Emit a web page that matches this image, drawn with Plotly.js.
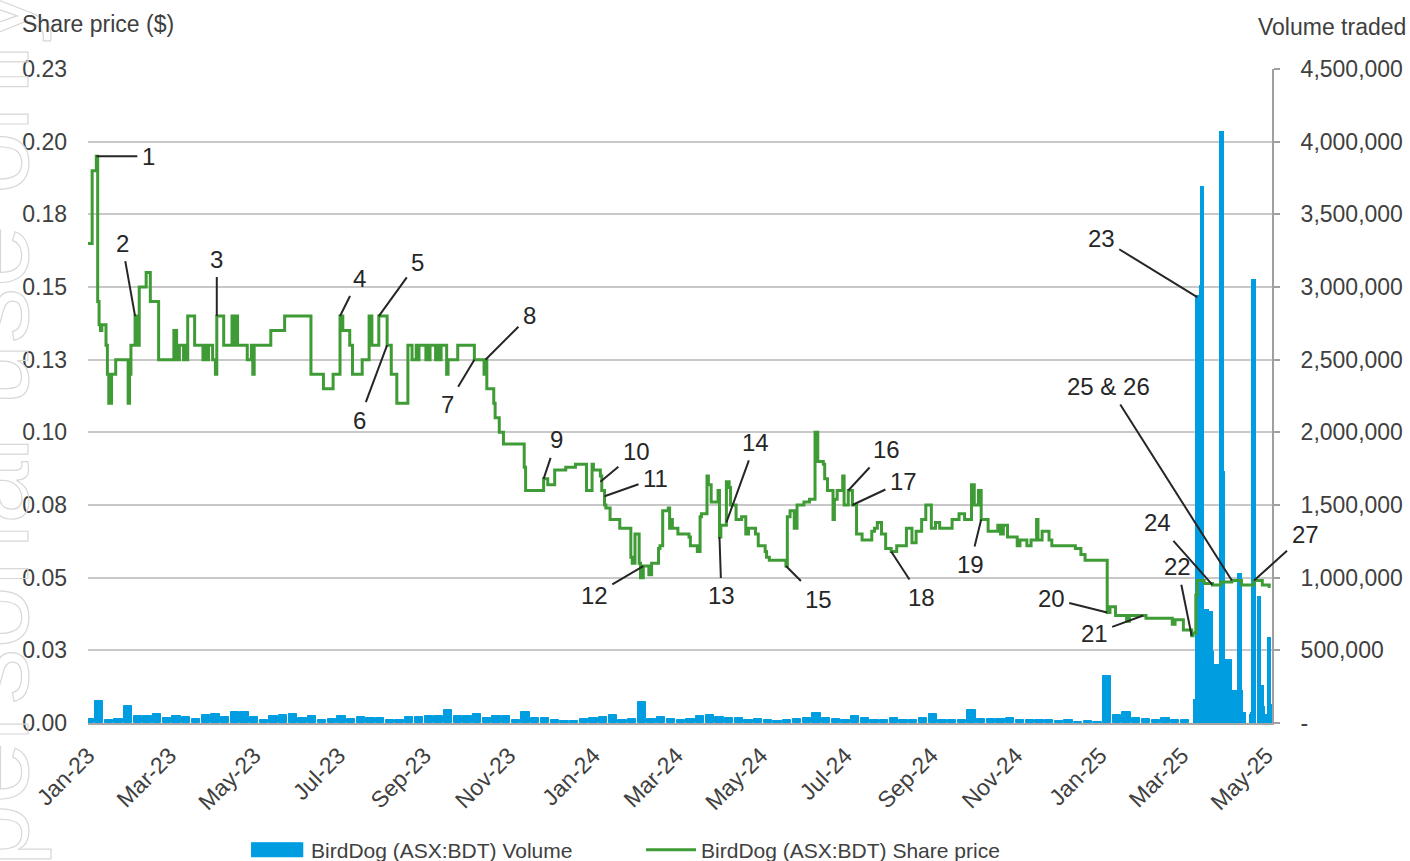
<!DOCTYPE html>
<html><head><meta charset="utf-8">
<script src="https://cdn.plot.ly/plotly-3.0.1.min.js"></script>
<style>
html,body{margin:0;padding:0;background:#fff;}
#chart{width:1410px;height:861px;}
g.annotation[data-index="0"] text { stroke:#d8d8d8; stroke-width:1.2px; }
</style></head><body><div id="chart"></div><script>
// ---------- data ----------
const priceDates = [
'2023-01-03','2023-01-06','2023-01-09','2023-01-10','2023-01-11','2023-01-12','2023-01-13','2023-01-16','2023-01-17','2023-01-18',
'2023-01-20','2023-01-23','2023-02-01','2023-02-02','2023-02-03','2023-02-06','2023-02-07','2023-02-09','2023-02-14','2023-02-17',
'2023-02-23','2023-03-06','2023-03-08','2023-03-10','2023-03-13','2023-03-14','2023-03-15','2023-03-16','2023-03-21','2023-03-27',
'2023-03-28','2023-03-29','2023-03-31','2023-04-03','2023-04-05','2023-04-06','2023-04-11','2023-04-17','2023-04-18','2023-04-19',
'2023-04-21','2023-04-28','2023-05-01','2023-05-02','2023-05-03','2023-05-15','2023-05-25','2023-06-13','2023-06-22','2023-06-29',
'2023-07-04','2023-07-06','2023-07-11','2023-07-13','2023-07-20','2023-07-25','2023-07-27','2023-08-01','2023-08-07','2023-08-10',
'2023-08-14','2023-08-22','2023-08-25','2023-08-28','2023-08-29','2023-08-30','2023-09-04','2023-09-05','2023-09-06','2023-09-07',
'2023-09-11','2023-09-12','2023-09-14','2023-09-15','2023-09-19','2023-09-20','2023-09-27','2023-10-09','2023-10-16','2023-10-17',
'2023-10-18','2023-10-23','2023-10-24','2023-10-27','2023-10-30','2023-11-14','2023-11-15','2023-11-28','2023-12-01','2023-12-06',
'2023-12-14','2023-12-21','2023-12-29','2024-01-02','2024-01-03','2024-01-08','2024-01-09','2024-01-11','2024-01-12','2024-01-15',
'2024-01-22','2024-01-30','2024-01-31','2024-02-02','2024-02-05','2024-02-06','2024-02-08','2024-02-12','2024-02-14','2024-02-19',
'2024-02-20','2024-02-22','2024-02-26','2024-02-27','2024-02-28','2024-02-29','2024-03-04','2024-03-12','2024-03-13','2024-03-18',
'2024-03-20','2024-03-21','2024-03-25','2024-03-26','2024-03-28','2024-04-02','2024-04-03','2024-04-04','2024-04-08','2024-04-10',
'2024-04-11','2024-04-15','2024-04-19','2024-04-22','2024-04-24','2024-04-29','2024-05-01','2024-05-06','2024-05-07','2024-05-09',
'2024-05-21','2024-05-22','2024-05-24','2024-05-27','2024-05-29','2024-06-03','2024-06-07','2024-06-11','2024-06-13','2024-06-17',
'2024-06-18','2024-06-20','2024-06-24','2024-06-25','2024-06-27','2024-07-01','2024-07-02','2024-07-05','2024-07-08','2024-07-11',
'2024-07-15','2024-07-22','2024-07-24','2024-07-26','2024-07-29','2024-08-01','2024-08-05','2024-08-09','2024-08-16','2024-08-20',
'2024-08-23','2024-08-27','2024-08-30','2024-09-03','2024-09-06','2024-09-09','2024-09-18','2024-09-23','2024-09-27','2024-10-02',
'2024-10-04','2024-10-07','2024-10-09','2024-10-14','2024-10-21','2024-10-23','2024-10-25','2024-10-28','2024-11-04','2024-11-06',
'2024-11-11','2024-11-14','2024-11-18','2024-11-19','2024-11-22','2024-11-27','2024-11-29','2024-12-16','2024-12-20','2024-12-23',
'2025-01-08','2025-01-10','2025-01-14','2025-01-21','2025-01-22','2025-01-24','2025-02-05','2025-02-24','2025-02-26','2025-03-04',
'2025-03-10','2025-03-11','2025-03-13','2025-03-14','2025-03-19','2025-03-25','2025-03-31','2025-04-08','2025-04-15','2025-04-24',
'2025-04-30','2025-05-05','2025-05-06'
];
const priceValues = [
0.165,0.19,0.195,0.145,0.137,0.135,0.137,0.13,0.12,0.11,
0.12,0.125,0.11,0.12,0.13,0.14,0.13,0.15,0.155,0.145,
0.125,0.135,0.125,0.13,0.125,0.13,0.125,0.14,0.13,0.125,
0.13,0.125,0.13,0.125,0.12,0.14,0.13,0.14,0.13,0.14,
0.13,0.125,0.13,0.12,0.13,0.135,0.14,0.12,0.115,0.12,
0.14,0.135,0.13,0.12,0.125,0.14,0.13,0.14,0.13,0.12,
0.11,0.13,0.125,0.13,0.125,0.13,0.125,0.13,0.125,0.13,
0.125,0.13,0.125,0.13,0.12,0.125,0.13,0.125,0.12,0.125,
0.115,0.11,0.105,0.10,0.096,0.088,0.08,0.084,0.082,0.087,
0.088,0.089,0.08,0.089,0.087,0.085,0.08,0.075,0.074,0.07,
0.067,0.057,0.055,0.065,0.055,0.05,0.054,0.051,0.055,0.06,
0.061,0.073,0.074,0.067,0.07,0.067,0.065,0.064,0.061,0.059,
0.071,0.072,0.085,0.082,0.076,0.08,0.064,0.068,0.083,0.081,
0.075,0.07,0.071,0.065,0.067,0.065,0.061,0.059,0.057,0.056,
0.054,0.071,0.073,0.067,0.075,0.076,0.077,0.10,0.09,0.089,
0.084,0.08,0.07,0.077,0.08,0.085,0.075,0.08,0.075,0.065,
0.063,0.066,0.067,0.069,0.065,0.06,0.059,0.061,0.067,0.062,
0.066,0.07,0.075,0.067,0.069,0.067,0.07,0.072,0.07,0.082,
0.075,0.08,0.07,0.066,0.068,0.065,0.068,0.064,0.061,0.063,
0.061,0.063,0.07,0.063,0.066,0.063,0.061,0.06,0.058,0.056,
0.038,0.04,0.037,0.037,0.035,0.037,0.036,0.034,0.0355,0.032,
0.03,0.031,0.044,0.049,0.048,0.0475,0.0485,0.049,0.0475,0.049,
0.0475,0.047,0.047
];

// weekly-read volume (Jan 2023 - early Mar 2025)
const volWeekDates = [
'2023-01-04','2023-01-11','2023-01-18','2023-01-25','2023-02-01','2023-02-08','2023-02-15','2023-02-22','2023-03-01','2023-03-08',
'2023-03-15','2023-03-22','2023-03-29','2023-04-05','2023-04-12','2023-04-19','2023-04-26','2023-05-03','2023-05-10','2023-05-17',
'2023-05-24','2023-05-31','2023-06-07','2023-06-14','2023-06-21','2023-06-28','2023-07-05','2023-07-12','2023-07-19','2023-07-26',
'2023-08-02','2023-08-09','2023-08-16','2023-08-23','2023-08-30','2023-09-06','2023-09-13','2023-09-20','2023-09-27','2023-10-04',
'2023-10-11','2023-10-18','2023-10-25','2023-11-01','2023-11-08','2023-11-15','2023-11-22','2023-11-29','2023-12-06','2023-12-13',
'2023-12-20','2023-12-27','2024-01-03','2024-01-10','2024-01-17','2024-01-24','2024-01-31','2024-02-07','2024-02-14','2024-02-21',
'2024-02-28','2024-03-06','2024-03-13','2024-03-20','2024-03-27','2024-04-03','2024-04-10','2024-04-17','2024-04-24','2024-05-01',
'2024-05-08','2024-05-15','2024-05-22','2024-05-29','2024-06-05','2024-06-12','2024-06-19','2024-06-26','2024-07-03','2024-07-10',
'2024-07-17','2024-07-24','2024-07-31','2024-08-07','2024-08-14','2024-08-21','2024-08-28','2024-09-04','2024-09-11','2024-09-18',
'2024-09-25','2024-10-02','2024-10-09','2024-10-16','2024-10-23','2024-10-30','2024-11-06','2024-11-13','2024-11-20','2024-11-27',
'2024-12-04','2024-12-11','2024-12-18','2024-12-25','2025-01-01','2025-01-08','2025-01-15','2025-01-22','2025-01-29','2025-02-05',
'2025-02-12','2025-02-19','2025-02-26','2025-03-05'
];
const volWeekValues = [
25000,149000,23000,28000,115000,46000,46000,64000,34000,50000,
41000,28000,57000,64000,41000,73000,73000,41000,18000,50000,
57000,64000,34000,46000,18000,28000,50000,28000,41000,34000,
32000,23000,23000,41000,41000,46000,50000,87000,46000,46000,
64000,34000,46000,46000,23000,73000,34000,34000,18000,11000,
11000,28000,34000,41000,57000,23000,28000,145000,28000,39000,
28000,18000,28000,46000,57000,41000,34000,34000,18000,28000,
23000,11000,23000,28000,34000,69000,34000,28000,18000,50000,
34000,23000,18000,34000,23000,23000,34000,64000,23000,18000,
18000,87000,28000,28000,28000,32000,23000,23000,23000,23000,
11000,18000,7000,16000,7000,320000,57000,78000,34000,28000,
23000,34000,23000,18000
];

// daily volume (Mar - May 2025)
const volDayDates = [
'2025-03-13','2025-03-14','2025-03-17','2025-03-18','2025-03-19','2025-03-20','2025-03-21','2025-03-24','2025-03-25','2025-03-26',
'2025-03-27','2025-03-28','2025-03-31','2025-04-01','2025-04-02','2025-04-03','2025-04-04','2025-04-07','2025-04-08','2025-04-09',
'2025-04-10','2025-04-11','2025-04-14','2025-04-15','2025-04-16','2025-04-17','2025-04-22','2025-04-23','2025-04-24','2025-04-28',
'2025-04-29','2025-04-30','2025-05-01','2025-05-02','2025-05-05','2025-05-06'
];
const volDayValues = [
150000,2930000,3000000,3680000,220000,220000,770000,760000,480000,120000,
40000,390000,390000,4060000,1720000,220000,430000,430000,210000,210000,
210000,210000,1020000,210000,50000,60000,50000,60000,3040000,860000,
250000,250000,100000,50000,580000,120000
];

// axes ticks
const xTickDates = ['2023-01-03','2023-03-03','2023-05-03','2023-07-03','2023-09-03','2023-11-03','2024-01-03','2024-03-03',
  '2024-05-03','2024-07-03','2024-09-03','2024-11-03','2025-01-03','2025-03-03','2025-05-03'];
const xTickLabels = ['Jan-23','Mar-23','May-23','Jul-23','Sep-23','Nov-23','Jan-24','Mar-24','May-24','Jul-24','Sep-24','Nov-24','Jan-25','Mar-25','May-25'];
const priceTicks = [0,0.025,0.05,0.075,0.1,0.125,0.15,0.175,0.2,0.225];
const priceTickLabels = ['0.00','0.03','0.05','0.08','0.10','0.13','0.15','0.18','0.20','0.23'];
const volTicks = [0,500000,1000000,1500000,2000000,2500000,3000000,3500000,4000000,4500000];
const volTickLabels = ['-','500,000','1,000,000','1,500,000','2,000,000','2,500,000','3,000,000','3,500,000','4,000,000','4,500,000'];

// numbered event annotations
const annLabels = ['1','2','3','4','5','6','7','8','9','10','11','12','13','14','15','16','17','18','19','20','21','22','23','24','25 & 26','27'];
const annDates = ['2023-01-09','2023-02-06','2023-04-06','2023-07-04','2023-08-01','2023-08-07','2023-10-09','2023-10-17','2023-11-28','2024-01-08',
  '2024-01-11','2024-02-08','2024-04-03','2024-04-08','2024-05-21','2024-07-05','2024-07-08','2024-08-05','2024-10-09','2025-01-08',
  '2025-02-03','2025-03-10','2025-03-14','2025-03-25','2025-04-08','2025-04-24'];
const annValues = [0.195,0.14,0.14,0.14,0.14,0.13,0.125,0.125,0.084,0.083,
  0.078,0.054,0.064,0.069,0.054,0.080,0.075,0.059,0.070,0.038,
  0.037,0.030,2930000,0.0475,0.049,0.049];
const annOnVolume = [false,false,false,false,false,false,false,false,false,false,false,false,false,false,false,false,false,false,false,false,false,false,true,false,false,false];

// ---------- layout settings ----------
const annOffsets = [[52,0],[-13,-73],[0,-57],[19,-38],[39,-54],[-28,75],[-27,45],[44,-44],[13,-39],[36,-30],
  [51,-18],[-49,29],[2,59],[29,-80],[33,33],[38,-41],[51,-24],[30,46],[-11,45],[-56,-14],
  [-49,18],[-14,-69],[-96,-59],[-55,-62],[-123,-194],[51,-46]];

const FONT = 'Liberation Sans, Arial, sans-serif';
const TXT = '#404040';
const BLUE = '#009ee0';
const GREEN = '#3f9b35';

const traces = [
  {type:'bar', x:volWeekDates, y:volWeekValues, yaxis:'y', name:'BirdDog (ASX:BDT) Volume',
   width: 6*86400000, marker:{color:BLUE, line:{color:BLUE, width:1}}, legendgroup:'vol', hoverinfo:'skip'},
  {type:'bar', x:volDayDates, y:volDayValues, yaxis:'y', name:'BirdDog (ASX:BDT) Volume', showlegend:false,
   width: 86400000, marker:{color:BLUE, line:{color:BLUE, width:3}}, legendgroup:'vol', hoverinfo:'skip'},
  {type:'scatter', mode:'lines', x:priceDates, y:priceValues, yaxis:'y2', name:'BirdDog (ASX:BDT) Share price',
   line:{color:GREEN, width:3, shape:'hv'}, hoverinfo:'skip'}
];

const annotations = [
  {xref:'paper', yref:'paper', x:-0.083, y:0.30, text:'For personal use only', textangle:-90, showarrow:false,
   font:{family:FONT, size:112, color:'rgba(0,0,0,0)'}, xanchor:'center', yanchor:'middle'},
  {xref:'paper', yref:'paper', x:(20-88)/1184, y:(723-24)/654, text:'Share price ($)', showarrow:false,
   xanchor:'left', yanchor:'middle', font:{family:FONT, size:23, color:TXT}},
  {xref:'paper', yref:'paper', x:(1408-88)/1184, y:(723-27)/654, text:'Volume traded', showarrow:false,
   xanchor:'right', yanchor:'middle', font:{family:FONT, size:23, color:TXT}}
];
for (let i = 0; i < annLabels.length; i++) {
  annotations.push({
    x: annDates[i], y: annValues[i], xref:'x', yref: annOnVolume[i] ? 'y' : 'y2',
    text: annLabels[i], showarrow:true, arrowhead:0, arrowwidth:2, arrowcolor:'#262626',
    ax: annOffsets[i][0], ay: annOffsets[i][1], borderpad:4, standoff:0,
    font:{family:FONT, size:24, color:'#262626'}
  });
}

const layout = {
  width:1410, height:861,
  margin:{l:88, r:138, t:69, b:138, autoexpand:false},
  paper_bgcolor:'#ffffff', plot_bgcolor:'#ffffff',
  font:{family:FONT, color:TXT, size:23},
  showlegend:true,
  barmode:'overlay', bargap:0,
  xaxis:{type:'date', range:['2023-01-03','2025-05-07'], tickvals:xTickDates, ticktext:xTickLabels, automargin:false,
    tickangle:-45, tickfont:{family:FONT, size:23, color:TXT}, showgrid:false, zeroline:false,
    showline:true, linecolor:'#a6a6a6', linewidth:2, ticks:'', ticklabelstandoff:8},
  yaxis:{range:[0,4500000], side:'right', tickvals:volTicks, ticktext:volTickLabels, automargin:false,
    tickfont:{family:FONT, size:23, color:TXT}, showgrid:false, zeroline:false,
    showline:true, linecolor:'#a0a0a0', linewidth:2, ticks:'outside', ticklen:6, tickcolor:'#a0a0a0', tickwidth:2,
    ticklabelstandoff:16},
  yaxis2:{range:[0,0.225], overlaying:'y', side:'left', tickvals:priceTicks, ticktext:priceTickLabels, automargin:false,
    tickfont:{family:FONT, size:23, color:TXT}, showgrid:true, gridcolor:'#c8c8c8', gridwidth:1.5,
    zeroline:false, showline:false, ticks:'', ticklabelstandoff:20},
  legend:{orientation:'h', x:0.1377, xanchor:'left', y:(723-850)/654, yanchor:'middle',
    font:{family:FONT, size:21, color:TXT}, entrywidth:325, entrywidthmode:'pixels', itemwidth:50,
    traceorder:'normal', bgcolor:'rgba(0,0,0,0)'},
  annotations: annotations
};

// widen the bar legend swatch into a flat rectangle like the original
function widenSwatch() {
  const groups = document.querySelectorAll('#chart g.legend g.traces');
  if (!groups.length) return;
  groups[0].querySelectorAll('g.legendpoints path').forEach(function (p) {
    if (p.getAttribute('data-wide')) return;
    const t = p.getAttribute('transform') || '';
    p.setAttribute('transform', t + ' translate(-7,0) scale(4.5,1.15)');
    p.setAttribute('data-wide', '1');
  });
}

Plotly.newPlot('chart', traces, layout, {displayModeBar:false, responsive:false}).then(function () {
  widenSwatch();
  setTimeout(widenSwatch, 30);
});
</script></body></html>
